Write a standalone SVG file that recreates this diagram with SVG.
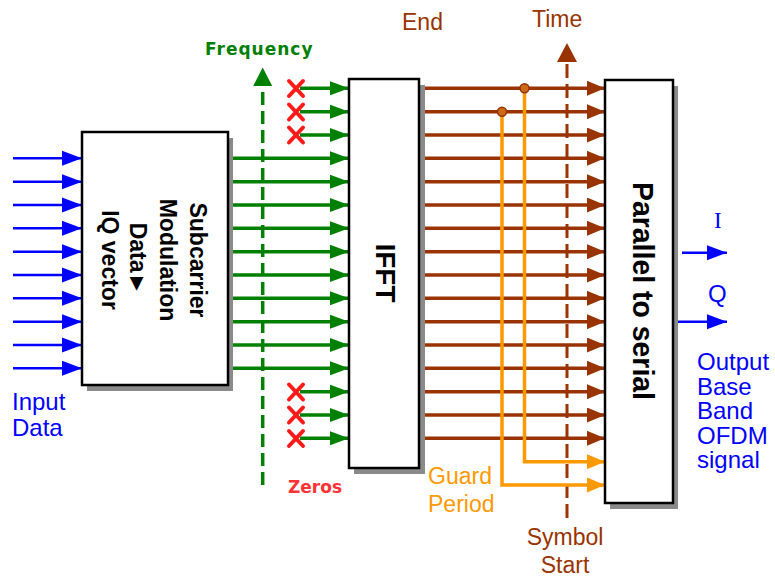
<svg xmlns="http://www.w3.org/2000/svg" width="775" height="578" viewBox="0 0 775 578">
<style>
.box{fill:#fff;stroke:#000;stroke-width:2.5}
.shadow{fill:#8a8a8a}
.blue{stroke:#0000ff;stroke-width:2.5;fill:none}
.green{stroke:#008000;stroke-width:3.5;fill:none}
.brown{stroke:#993300;stroke-width:3.5;fill:none}
.orange{stroke:#ff9900;stroke-width:3.5;fill:none}
.xm{stroke:#ff1a1a;stroke-width:4;stroke-linecap:round;fill:none}
.lbl{font-family:"Liberation Sans",Arial,sans-serif}
.vb{font-family:"DejaVu Sans",Verdana,sans-serif;font-weight:bold}
.inbox{font-family:"Liberation Sans",Arial,sans-serif;font-weight:bold;fill:#000}
</style>
<defs>
<marker id="ab" markerUnits="userSpaceOnUse" markerWidth="20" markerHeight="16" refX="20" refY="8" orient="auto"><path d="M0,0.5 L20,8 L0,15.5 z" fill="#0000ff"/></marker>
<marker id="ag" markerUnits="userSpaceOnUse" markerWidth="19" markerHeight="14" refX="19" refY="7" orient="auto"><path d="M0,0 L19,7 L0,14 z" fill="#008000"/></marker>
<marker id="ar" markerUnits="userSpaceOnUse" markerWidth="18" markerHeight="15" refX="18" refY="7.5" orient="auto"><path d="M0,0 L18,7.5 L0,15 z" fill="#993300"/></marker>
<marker id="ao" markerUnits="userSpaceOnUse" markerWidth="18" markerHeight="15" refX="18" refY="7.5" orient="auto"><path d="M0,0 L18,7.5 L0,15 z" fill="#ff9900"/></marker>
<marker id="agAxis" markerUnits="userSpaceOnUse" markerWidth="19" markerHeight="18" refX="9.5" refY="0" orient="0"><path d="M9.5,0 L19,18 L0,18 z" fill="#008000"/></marker>
</defs>

<g id="connectors">
  <!-- input data blue arrows -->
  <g class="blue">
    <line x1="13" y1="158.3" x2="82" y2="158.3" marker-end="url(#ab)"/>
    <line x1="13" y1="181.7" x2="82" y2="181.7" marker-end="url(#ab)"/>
    <line x1="13" y1="205" x2="82" y2="205" marker-end="url(#ab)"/>
    <line x1="13" y1="228.3" x2="82" y2="228.3" marker-end="url(#ab)"/>
    <line x1="13" y1="251.7" x2="82" y2="251.7" marker-end="url(#ab)"/>
    <line x1="13" y1="275" x2="82" y2="275" marker-end="url(#ab)"/>
    <line x1="13" y1="298.3" x2="82" y2="298.3" marker-end="url(#ab)"/>
    <line x1="13" y1="321.7" x2="82" y2="321.7" marker-end="url(#ab)"/>
    <line x1="13" y1="345" x2="82" y2="345" marker-end="url(#ab)"/>
    <line x1="13" y1="368.3" x2="82" y2="368.3" marker-end="url(#ab)"/>
  </g>
  <!-- frequency axis -->
  <line x1="262.7" y1="485" x2="262.7" y2="86" stroke="#008000" stroke-width="3.5" stroke-dasharray="13 6"/>
  <path d="M262.7,67.5 L272.2,86 L253.2,86 z" fill="#008000"/>
  <!-- green subcarrier arrows -->
  <g class="green">
    <line x1="300" y1="88.3" x2="349" y2="88.3" marker-end="url(#ag)"/>
    <line x1="300" y1="111.7" x2="349" y2="111.7" marker-end="url(#ag)"/>
    <line x1="300" y1="135" x2="349" y2="135" marker-end="url(#ag)"/>
    <line x1="233" y1="158.3" x2="349" y2="158.3" marker-end="url(#ag)"/>
    <line x1="233" y1="181.7" x2="349" y2="181.7" marker-end="url(#ag)"/>
    <line x1="233" y1="205" x2="349" y2="205" marker-end="url(#ag)"/>
    <line x1="233" y1="228.3" x2="349" y2="228.3" marker-end="url(#ag)"/>
    <line x1="233" y1="251.7" x2="349" y2="251.7" marker-end="url(#ag)"/>
    <line x1="233" y1="275" x2="349" y2="275" marker-end="url(#ag)"/>
    <line x1="233" y1="298.3" x2="349" y2="298.3" marker-end="url(#ag)"/>
    <line x1="233" y1="321.7" x2="349" y2="321.7" marker-end="url(#ag)"/>
    <line x1="233" y1="345" x2="349" y2="345" marker-end="url(#ag)"/>
    <line x1="233" y1="368.3" x2="349" y2="368.3" marker-end="url(#ag)"/>
    <line x1="300" y1="391.7" x2="349" y2="391.7" marker-end="url(#ag)"/>
    <line x1="300" y1="415" x2="349" y2="415" marker-end="url(#ag)"/>
    <line x1="300" y1="438.3" x2="349" y2="438.3" marker-end="url(#ag)"/>
  </g>
  <!-- zero markers -->
  <g class="xm">
    <path d="M289,81 L303,96 M303,81 L289,96"/>
    <path d="M289,104.5 L303,119.5 M303,104.5 L289,119.5"/>
    <path d="M289,127.5 L303,142.5 M303,127.5 L289,142.5"/>
    <path d="M289,384.5 L303,399.5 M303,384.5 L289,399.5"/>
    <path d="M289,407.5 L303,422.5 M303,407.5 L289,422.5"/>
    <path d="M289,431 L303,446 M303,431 L289,446"/>
  </g>
  <!-- time axis -->
  <line x1="567" y1="518" x2="567" y2="61" stroke="#993300" stroke-width="3" stroke-dasharray="14 6"/>
  <path d="M567,43 L577,62 L557,62 z" fill="#993300"/>
  <!-- brown IFFT outputs -->
  <g class="brown">
    <line x1="425" y1="88.3" x2="605" y2="88.3" marker-end="url(#ar)"/>
    <line x1="425" y1="111.7" x2="605" y2="111.7" marker-end="url(#ar)"/>
    <line x1="425" y1="135" x2="605" y2="135" marker-end="url(#ar)"/>
    <line x1="425" y1="158.3" x2="605" y2="158.3" marker-end="url(#ar)"/>
    <line x1="425" y1="181.7" x2="605" y2="181.7" marker-end="url(#ar)"/>
    <line x1="425" y1="205" x2="605" y2="205" marker-end="url(#ar)"/>
    <line x1="425" y1="228.3" x2="605" y2="228.3" marker-end="url(#ar)"/>
    <line x1="425" y1="251.7" x2="605" y2="251.7" marker-end="url(#ar)"/>
    <line x1="425" y1="275" x2="605" y2="275" marker-end="url(#ar)"/>
    <line x1="425" y1="298.3" x2="605" y2="298.3" marker-end="url(#ar)"/>
    <line x1="425" y1="321.7" x2="605" y2="321.7" marker-end="url(#ar)"/>
    <line x1="425" y1="345" x2="605" y2="345" marker-end="url(#ar)"/>
    <line x1="425" y1="368.3" x2="605" y2="368.3" marker-end="url(#ar)"/>
    <line x1="425" y1="391.7" x2="605" y2="391.7" marker-end="url(#ar)"/>
    <line x1="425" y1="415" x2="605" y2="415" marker-end="url(#ar)"/>
    <line x1="425" y1="438.3" x2="605" y2="438.3" marker-end="url(#ar)"/>
  </g>
  <!-- guard period copies -->
  <g class="orange">
    <polyline points="524.5,88.3 524.5,461.7 605,461.7" marker-end="url(#ao)"/>
    <polyline points="502,111.7 502,485 605,485" marker-end="url(#ao)"/>
  </g>
  <circle cx="524.5" cy="88.3" r="4.5" fill="#cc6a1a" stroke="#993300" stroke-width="1.5"/>
  <circle cx="502" cy="111.7" r="4.5" fill="#cc6a1a" stroke="#993300" stroke-width="1.5"/>
  <!-- outputs I Q -->
  <g class="blue">
    <line x1="682" y1="252.7" x2="727" y2="252.7" marker-end="url(#ab)"/>
    <line x1="673" y1="321.7" x2="727" y2="321.7" marker-end="url(#ab)"/>
  </g>
</g>

<g id="mod">
  <rect class="shadow" x="87" y="138" width="146" height="253"/>
  <rect class="box" x="82" y="132" width="146" height="253"/>
  <text class="inbox" font-size="23" text-anchor="middle" transform="translate(190,260) rotate(90)">Subcarrier</text>
  <text class="inbox" font-size="23" text-anchor="middle" transform="translate(160,260) rotate(90)">Modulation</text>
  <text class="inbox" font-size="23" text-anchor="middle" transform="translate(130,259) rotate(90)">Data►</text>
  <text class="inbox" font-size="23" text-anchor="middle" transform="translate(102,260) rotate(90)">IQ vector</text>
</g>

<g id="ifft">
  <rect class="shadow" x="354" y="85" width="71" height="389"/>
  <rect class="box" x="349" y="79" width="70" height="389"/>
  <text class="inbox" font-size="28" text-anchor="middle" transform="translate(376,273) rotate(90)">IFFT</text>
</g>

<g id="ps">
  <rect class="shadow" x="610" y="86" width="68" height="423"/>
  <rect class="box" x="605" y="80" width="68" height="423"/>
  <text class="inbox" font-size="29" text-anchor="middle" textLength="218" lengthAdjust="spacingAndGlyphs" transform="translate(633,291) rotate(90)">Parallel to serial</text>
</g>

<g id="labels">
  <text class="lbl" font-size="24" fill="#0000ff" x="12" y="410">Input</text>
  <text class="lbl" font-size="24" fill="#0000ff" x="12" y="436">Data</text>
  <text class="vb" font-size="17" fill="#008000" letter-spacing="1" x="205" y="55">Frequency</text>
  <text class="vb" font-size="17" fill="#ff3333" x="288" y="493">Zeros</text>
  <text class="lbl" font-size="23" fill="#993300" x="402" y="30">End</text>
  <text class="lbl" font-size="23" fill="#993300" x="532" y="27">Time</text>
  <text class="lbl" font-size="23" fill="#ff9900" x="428" y="484">Guard</text>
  <text class="lbl" font-size="23" fill="#ff9900" x="428" y="512">Period</text>
  <text class="lbl" font-size="23" fill="#993300" x="565" y="545" text-anchor="middle">Symbol</text>
  <text class="lbl" font-size="23" fill="#993300" x="565" y="573" text-anchor="middle">Start</text>
  <text font-family="'Liberation Serif','Times New Roman',serif" font-size="23" fill="#0000ff" x="714" y="228">I</text>
  <text class="lbl" font-size="24" fill="#0000ff" x="708" y="302">Q</text>
  <text class="lbl" font-size="24" fill="#0000ff" x="697" y="370">Output</text>
  <text class="lbl" font-size="24" fill="#0000ff" x="697" y="394.5">Base</text>
  <text class="lbl" font-size="24" fill="#0000ff" x="697" y="419">Band</text>
  <text class="lbl" font-size="24" fill="#0000ff" x="697" y="443.5">OFDM</text>
  <text class="lbl" font-size="24" fill="#0000ff" x="697" y="468">signal</text>
</g>
</svg>
